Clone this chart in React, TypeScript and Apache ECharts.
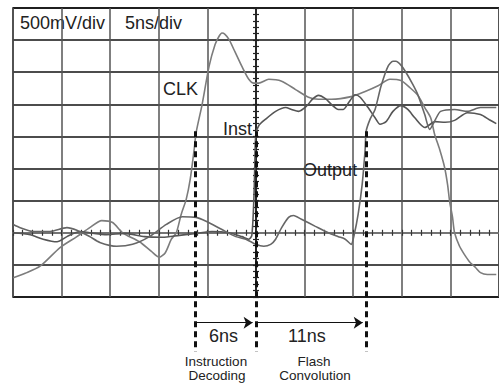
import React, { useEffect, useRef } from "react";
import * as echarts from "echarts";

// time in ns (0 = screen centre), voltage in V (500 mV/div)
const clkTime = [-24.97, -23.74, -22.21, -20.16, -18.43, -17.1, -15.87, -14.75, -13.72, -11.98, -10.76, -9.94, -9.33, -8.71, -8.2, -7.69, -7.18, -6.77, -6.36, -6.16, -5.54, -4.83, -4.21, -3.8, -3.5, -3.19, -2.78, -2.17, -1.45, -0.74, -0.22, 0.29, 1.31, 2.64, 4.07, 5.4, 6.42, 7.75, 9.79, 11.23, 12.56, 13.78, 14.91, 15.83, 16.65, 17.36, 17.97, 18.38, 18.89, 19.4, 19.71, 19.92, 20.22, 20.43, 20.94, 21.45, 21.96, 22.58, 23.09, 23.8, 24.72];
const clkVolt = [-0.7, -0.63, -0.52, -0.23, -0.06, 0.08, 0.19, 0.16, 0.0, -0.14, -0.29, -0.38, -0.31, -0.1, 0.0, 0.29, 0.52, 0.83, 1.3, 1.56, 2.0, 2.59, 2.93, 3.06, 3.11, 3.09, 3.01, 2.82, 2.59, 2.39, 2.33, 2.33, 2.39, 2.36, 2.23, 2.11, 2.08, 2.08, 2.12, 2.2, 2.29, 2.39, 2.37, 2.26, 2.14, 1.95, 1.79, 1.53, 1.3, 1.02, 0.75, 0.49, 0.24, 0.0, -0.21, -0.34, -0.45, -0.54, -0.62, -0.65, -0.65];

const instTime = [-24.97, -23.23, -21.9, -20.47, -19.45, -18.12, -17.1, -15.36, -13.52, -11.47, -9.63, -7.89, -6.16, -4.52, -2.78, -1.45, -0.74, -0.43, -0.22, -0.12, -0.02, 0.29, 1.0, 2.02, 3.05, 3.66, 4.38, 5.19, 5.81, 6.42, 7.14, 7.75, 8.47, 8.98, 9.59, 10.2, 10.72, 11.53, 12.25, 12.76, 13.38, 14.09, 14.91, 15.62, 16.34, 17.36, 18.44, 19.46, 20.43, 21.76, 23.09, 24.01, 24.72];
const instVolt = [0.0, -0.03, -0.1, -0.14, -0.06, 0.02, 0.0, -0.03, -0.01, -0.06, -0.07, -0.04, -0.01, 0.02, 0.0, -0.06, -0.1, -0.04, 0.52, 1.06, 1.53, 1.67, 1.77, 1.89, 1.95, 1.92, 1.89, 1.97, 2.08, 2.14, 2.09, 2.0, 1.92, 1.92, 2.04, 2.15, 2.11, 1.95, 1.79, 1.69, 1.73, 1.89, 1.98, 1.92, 1.79, 1.64, 1.73, 1.72, 1.75, 1.87, 1.84, 1.76, 1.7];

const outTime = [-24.97, -24.26, -22.93, -21.19, -19.45, -18.43, -17.1, -16.07, -14.34, -12.7, -10.96, -9.22, -7.59, -6.16, -5.14, -3.5, -2.07, -1.04, -0.02, 0.8, 1.51, 2.02, 2.64, 3.35, 3.86, 4.68, 6.11, 7.44, 8.47, 9.18, 9.79, 10.1, 10.51, 10.92, 11.23, 11.33, 11.74, 12.25, 12.86, 13.58, 14.09, 14.4, 14.91, 15.42, 16.13, 16.65, 17.36, 17.87, 18.48, 18.99, 20.43, 21.76, 23.09, 24.72];
const outVolt = [0.13, 0.08, 0.02, 0.02, 0.08, 0.04, -0.06, -0.15, -0.21, -0.18, -0.06, 0.13, 0.25, 0.24, 0.18, 0.05, -0.06, -0.1, -0.18, -0.21, -0.18, -0.1, 0.08, 0.24, 0.27, 0.21, 0.1, 0.0, -0.06, -0.1, -0.18, -0.03, 0.29, 0.75, 1.3, 1.58, 1.77, 1.92, 2.28, 2.59, 2.67, 2.67, 2.61, 2.5, 2.31, 2.15, 1.84, 1.61, 1.77, 1.89, 1.92, 1.89, 1.95, 1.95];

const markerTimes = [-6.26, 0, 11.33];
const markerTop = 1.58;
const markerBottom = -1.85;
const arrowLevel = -1.4;
const spanStarts = [-6.26, 0];
const spanEnds = [0, 11.33];

const zip = (a: number[], b: number[]) => a.map((t, i) => [t, b[i]]);

const FONT = "'Liberation Sans', Arial, Helvetica, sans-serif";

export default function App() {
  const ref = useRef<HTMLDivElement>(null);
  useEffect(() => {
    if (!ref.current) return;
    const chart = echarts.init(ref.current, null, { renderer: "svg" });

    const xBase = {
      type: "value",
      min: -25,
      max: 25,
      interval: 5,
      axisLabel: { show: false },
      axisLine: { show: true, onZero: true, onZeroAxisIndex: 0, lineStyle: { color: "#777", width: 1.5 } },
      axisTick: { show: true, length: 3, lineStyle: { color: "#333", width: 1.2 } },
      minorTick: { show: true, splitNumber: 5, length: 3, lineStyle: { color: "#333", width: 1.2 } },
    };
    const yBase = {
      type: "value",
      min: -1,
      max: 3.5,
      interval: 0.5,
      axisLabel: { show: false },
      axisLine: { show: true, onZero: true, onZeroAxisIndex: 0, lineStyle: { color: "#222", width: 1.5 } },
      axisTick: { show: true, length: 3, lineStyle: { color: "#222", width: 1.2 } },
      minorTick: { show: true, splitNumber: 5, length: 3, lineStyle: { color: "#222", width: 1.2 } },
    };

    const wave = (name: string, t: number[], v: number[], color: string) => ({
      name,
      type: "line",
      data: zip(t, v),
      showSymbol: false,
      symbol: "none",
      smooth: 0.25,
      lineStyle: { color, width: 1.6 },
      z: 3,
    });

    const option: any = {
      animation: false,
      backgroundColor: "#fff",
      grid: {
        left: 13,
        top: 8,
        width: 489,
        height: 289,
        show: true,
        borderColor: "#111",
        borderWidth: 1.5,
        backgroundColor: "transparent",
      },
      xAxis: [
        { ...xBase, position: "bottom", splitLine: { show: true, lineStyle: { color: "#555", width: 1.5 } } },
        { ...xBase, position: "top", splitLine: { show: false } },
      ],
      yAxis: [
        { ...yBase, position: "left", splitLine: { show: true, lineStyle: { color: "#111", width: 1.5 } } },
        { ...yBase, position: "right", splitLine: { show: false } },
      ],
      series: [
        wave("CLK", clkTime, clkVolt, "#7c7c7c"),
        wave("Inst", instTime, instVolt, "#555555"),
        wave("Output", outTime, outVolt, "#666666"),
        {
          type: "lines",
          coordinateSystem: "cartesian2d",
          clip: false,
          silent: true,
          z: 5,
          symbol: "none",
          lineStyle: { color: "#111", width: 3, type: [6, 4], opacity: 1 },
          data: markerTimes.map((t) => ({ coords: [[t, markerTop], [t, markerBottom]] })),
        },
        {
          type: "lines",
          coordinateSystem: "cartesian2d",
          clip: false,
          silent: true,
          z: 5,
          symbol: ["none", "arrow"],
          symbolSize: [7, 9],
          lineStyle: { color: "#111", width: 1, opacity: 1 },
          data: spanStarts.map((s, i) => ({ coords: [[s, arrowLevel], [spanEnds[i] - 0.35, arrowLevel]] })),
        },
      ],
      graphic: [
        { type: "text", left: 20, top: 14, style: { text: "500mV/div", font: `18px ${FONT}`, fill: "#222" } },
        { type: "text", left: 125, top: 14, style: { text: "5ns/div", font: `18px ${FONT}`, fill: "#222" } },
        { type: "text", left: 163, top: 80, style: { text: "CLK", font: `18px ${FONT}`, fill: "#222" } },
        { type: "text", left: 223, top: 120, style: { text: "Inst", font: `18px ${FONT}`, fill: "#222" } },
        { type: "text", left: 303, top: 161, style: { text: "Output", font: `18px ${FONT}`, fill: "#222" } },
        { type: "text", left: 209, top: 327, style: { text: "6ns", font: `18px ${FONT}`, fill: "#222" } },
        { type: "text", left: 288, top: 327, style: { text: "11ns", font: `18px ${FONT}`, fill: "#222" } },
        { type: "text", x: 216, y: 361, style: { text: "Instruction", font: `13.5px ${FONT}`, fill: "#222", textAlign: "center", textVerticalAlign: "middle" } },
        { type: "text", x: 217, y: 375.5, style: { text: "Decoding", font: `13.5px ${FONT}`, fill: "#222", textAlign: "center", textVerticalAlign: "middle" } },
        { type: "text", x: 314, y: 361, style: { text: "Flash", font: `13.5px ${FONT}`, fill: "#222", textAlign: "center", textVerticalAlign: "middle" } },
        { type: "text", x: 315, y: 375.5, style: { text: "Convolution", font: `13.5px ${FONT}`, fill: "#222", textAlign: "center", textVerticalAlign: "middle" } },
      ],
    };
    chart.setOption(option);
    return () => chart.dispose();
  }, []);
  return (
    <div
      ref={ref}
      style={{ position: "fixed", left: 0, top: 0, width: 499, height: 383, background: "#fff" }}
    />
  );
}
